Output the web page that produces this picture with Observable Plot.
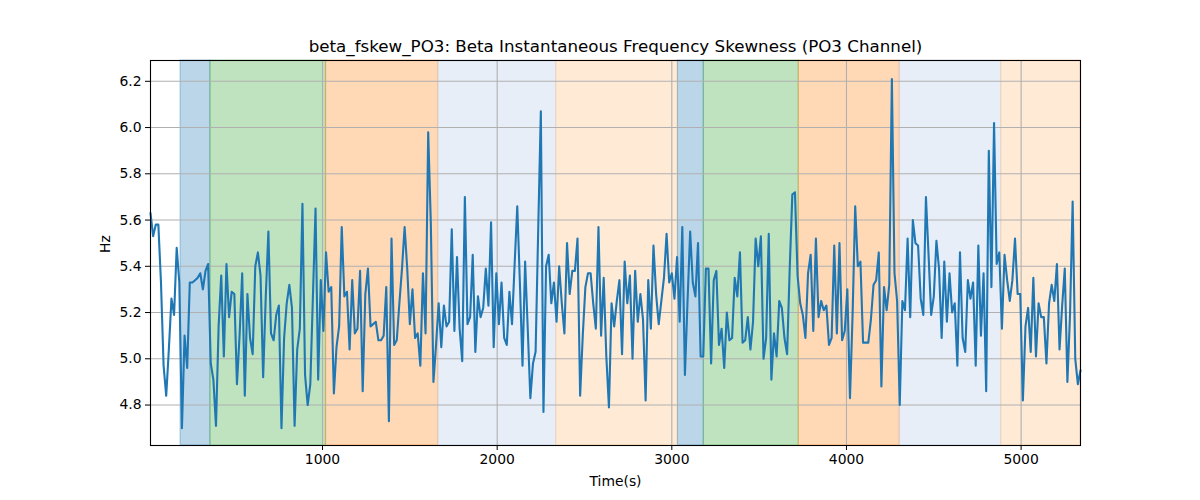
<!DOCTYPE html>
<html>
<head>
<meta charset="utf-8">
<script src="https://cdn.jsdelivr.net/npm/d3@7"></script>
<script src="https://cdn.jsdelivr.net/npm/@observablehq/plot@0.6"></script>
<style>
  html, body { margin: 0; padding: 0; background: #ffffff; }
  #chart { width: 1200px; height: 500px; }
</style>
</head>
<body>
<div id="chart"></div>
<script>
const chartTitle = "beta_fskew_PO3: Beta Instantaneous Frequency Skewness (PO3 Channel)";
const xLabel = "Time(s)";
const yLabel = "Hz";

// sample times: first sample and sampling step (seconds)
const startTime = 15;
const timeStep = 15;

// skewness values (Hz), one per sample
const values = [
  5.63, 5.53, 5.58, 5.58, 5.33, 4.97, 4.84, 5.04, 5.26, 5.19,
  5.48, 5.33, 4.70, 5.10, 4.96, 5.33, 5.33, 5.34, 5.35, 5.37,
  5.30, 5.38, 5.41, 4.98, 4.91, 4.71, 5.14, 5.36, 5.01, 5.41,
  5.18, 5.29, 5.28, 4.89, 5.10, 5.37, 4.84, 5.28, 5.09, 5.02,
  5.40, 5.46, 5.36, 4.92, 5.27, 5.55, 5.11, 5.08, 5.19, 5.23,
  4.70, 5.09, 5.24, 5.32, 5.22, 4.71, 5.04, 5.13, 5.67, 4.93,
  // ---
  4.80, 4.89, 5.27, 5.65, 4.91, 5.34, 5.12, 5.46, 5.29, 5.31,
  4.85, 5.05, 5.14, 5.57, 5.27, 5.29, 5.04, 5.34, 5.11, 5.13,
  5.38, 4.86, 5.28, 5.39, 5.14, 5.15, 5.16, 5.08, 5.08, 5.10,
  5.31, 4.73, 5.52, 5.06, 5.08, 5.24, 5.39, 5.57, 5.39, 5.15,
  5.30, 5.09, 5.11, 4.97, 5.37, 5.11, 5.98, 5.59, 4.90, 5.06,
  5.24, 5.05, 5.23, 5.14, 5.16, 5.56, 5.12, 5.44,
  // ---
  5.13, 4.99, 5.70, 5.15, 5.18, 5.45, 5.03, 5.27, 5.18, 5.22,
  5.39, 5.23, 5.59, 5.05, 5.37, 5.15, 5.33, 5.09, 5.06, 5.29,
  5.15, 5.41, 5.66, 5.33, 4.97, 5.42, 5.13, 4.83, 4.98, 5.03,
  5.56, 6.07, 4.77, 5.40, 5.45, 5.24, 5.33, 5.16, 5.40, 5.24,
  5.11, 5.50, 5.28, 5.38, 5.38, 5.52, 4.84, 5.10, 5.31, 5.37,
  5.37, 5.24, 5.13, 5.57, 5.10, 5.35, 5.01, 4.79,
  // ---
  5.24, 5.14, 5.25, 5.34, 5.02, 5.42, 5.24, 5.36, 5.00, 5.38,
  5.16, 5.28, 5.17, 4.82, 5.34, 5.13, 5.49, 5.28, 5.15, 5.25,
  5.35, 5.54, 5.33, 5.37, 5.26, 5.44, 5.16, 5.57, 4.93, 5.25,
  5.55, 5.33, 5.27, 5.50, 5.01, 5.01, 5.39, 5.39, 4.98, 5.34,
  5.38, 5.06, 5.13, 4.96, 5.20, 5.08, 5.09, 5.35, 5.27, 5.46,
  5.07, 5.08, 5.18, 5.04, 5.16, 5.52, 5.40, 5.53, 5.00,
  // ---
  5.09, 5.54, 4.91, 5.11, 5.01, 5.25, 5.22, 5.09, 5.02, 5.39,
  5.71, 5.72, 5.36, 5.24, 5.19, 5.09, 5.37, 5.45, 5.12, 5.52,
  5.18, 5.25, 5.21, 5.23, 5.06, 5.09, 5.49, 5.11, 5.50, 5.08,
  5.12, 5.30, 4.83, 5.19, 5.66, 5.40, 5.42, 5.07, 5.07, 5.07,
  5.17, 5.32, 5.34, 5.46, 4.88, 5.31, 5.21, 5.32, 6.21, 5.37,
  5.25, 4.80, 5.25, 5.21, 5.52, 5.18, 5.60, 5.50, 5.49, 5.26,
  // ---
  5.19, 5.70, 5.45, 5.19, 5.27, 5.51, 5.39, 5.09, 5.42, 5.16,
  5.37, 5.20, 5.24, 4.97, 5.46, 5.09, 5.03, 5.34, 5.26, 5.33,
  4.97, 5.49, 5.10, 5.37, 4.86, 5.90, 5.31, 6.02, 5.41, 5.46,
  5.13, 5.45, 5.34, 5.25, 5.34, 5.52, 5.28, 5.28, 4.82, 5.14,
  5.22, 5.03, 5.35, 5.01, 5.24, 5.18, 5.18, 4.98, 5.24, 5.32,
  5.25, 5.41, 5.04, 5.23, 5.39, 4.90, 5.19, 5.68, 5.00, 4.89,
  4.95
];

// shaded stage intervals (seconds)
const spanStarts = [187, 358, 1020, 1663, 2338, 3035, 3183, 3727, 4305, 4886];
const spanEnds   = [358, 1020, 1663, 2338, 3035, 3183, 3727, 4305, 4886, 5340];
const spanColors = ["#1f77b4", "#2ca02c", "#ff7f0e", "#aec7e8", "#ffbb78",
                    "#1f77b4", "#2ca02c", "#ff7f0e", "#aec7e8", "#ffbb78"];

const xDomain = [15, 5340];
const yDomain = [4.625, 6.29];
const xTicks = [1000, 2000, 3000, 4000, 5000];
const yTicks = [4.8, 5.0, 5.2, 5.4, 5.6, 5.8, 6.0, 6.2];

const series = values.map((v, i) => ({ t: startTime + i * timeStep, v }));
const spans = spanStarts.map((s, i) => ({ x1: s, x2: spanEnds[i], c: spanColors[i] }));

const fontSize = 13.9;

const chart = Plot.plot({
  width: 1200,
  height: 500,
  marginLeft: 150,
  marginRight: 120,
  marginTop: 60,
  marginBottom: 55,
  style: { fontFamily: "DejaVu Sans", fontSize: fontSize + "px", color: "black", background: "white" },
  color: { type: "identity" },
  x: { domain: xDomain },
  y: { domain: yDomain },
  marks: [
    Plot.rect(spans, {
      x1: "x1", x2: "x2",
      fill: "c", fillOpacity: 0.3,
      stroke: "c", strokeOpacity: 0.3, strokeWidth: 1.2
    }),
    Plot.gridX(xTicks, { stroke: "#b0b0b0", strokeOpacity: 1, strokeWidth: 1.1 }),
    Plot.gridY(yTicks, { stroke: "#b0b0b0", strokeOpacity: 1, strokeWidth: 1.1 }),
    Plot.line(series, { x: "t", y: "v", stroke: "#1f77b4", strokeWidth: 2.1 }),
    Plot.frame({ stroke: "black", strokeWidth: 1.1 }),
    Plot.axisX({
      ticks: xTicks, tickFormat: (d) => String(d),
      tickSize: 5, tickPadding: 4, fontSize: fontSize, label: null, stroke: "black"
    }),
    Plot.axisY({
      ticks: yTicks, tickFormat: (d) => d.toFixed(1),
      tickSize: 5, tickPadding: 4, fontSize: fontSize, label: null, stroke: "black"
    }),
    Plot.text([chartTitle], {
      frameAnchor: "top", dy: -14, lineAnchor: "middle",
      fontSize: 16.7, fill: "black"
    }),
    Plot.text([xLabel], {
      frameAnchor: "bottom", dy: 36, lineAnchor: "middle",
      fontSize: fontSize, fill: "black"
    }),
    Plot.text([yLabel], {
      frameAnchor: "left", dx: -45, rotate: -90, lineAnchor: "middle",
      fontSize: fontSize, fill: "black"
    })
  ]
});

document.getElementById("chart").appendChild(chart);
</script>
</body>
</html>
